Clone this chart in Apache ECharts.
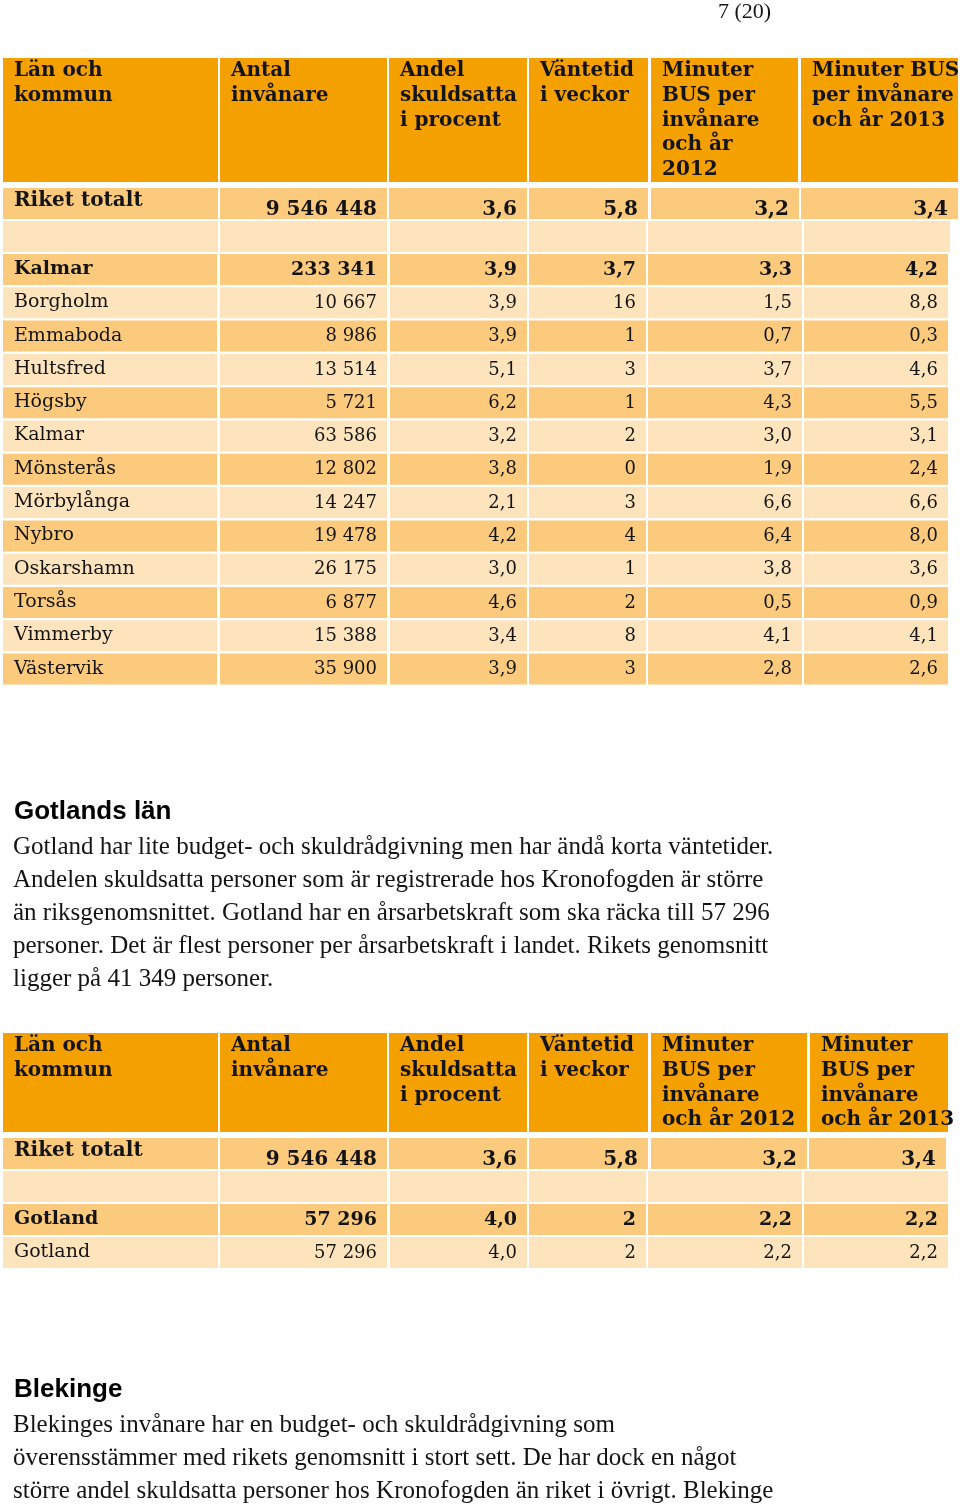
<!DOCTYPE html>
<html><head><meta charset="utf-8">
<script src="https://cdn.jsdelivr.net/npm/echarts@6/dist/echarts.min.js"></script>
<style>html,body{margin:0;padding:0;background:#fff}#c{width:960px;height:1506px}</style>
</head><body><div id="c"></div>
<script>
// ---------- DATA ----------
const pageNumber = '7 (20)';
const header1 = [['Län och','kommun'],['Antal','invånare'],['Andel','skuldsatta','i procent'],['Väntetid','i veckor'],['Minuter','BUS per','invånare','och år','2012'],['Minuter BUS','per invånare','och år 2013']];
const header2 = [['Län och','kommun'],['Antal','invånare'],['Andel','skuldsatta','i procent'],['Väntetid','i veckor'],['Minuter','BUS per','invånare','och år 2012'],['Minuter','BUS per','invånare','och år 2013']];
const riketLabel = 'Riket totalt';
const riketValues = [9546448, 3.6, 5.8, 3.2, 3.4];

const kalmarNames = ['Kalmar','Borgholm','Emmaboda','Hultsfred','Högsby','Kalmar','Mönsterås','Mörbylånga','Nybro','Oskarshamn','Torsås','Vimmerby','Västervik'];
const kalmarAntal = [233341,10667,8986,13514,5721,63586,12802,14247,19478,26175,6877,15388,35900];
const kalmarAndel = [3.9,3.9,3.9,5.1,6.2,3.2,3.8,2.1,4.2,3.0,4.6,3.4,3.9];
const kalmarVantetid = [3.7,16,1,3,1,2,0,3,4,1,2,8,3];
const kalmarMin2012 = [3.3,1.5,0.7,3.7,4.3,3.0,1.9,6.6,6.4,3.8,0.5,4.1,2.8];
const kalmarMin2013 = [4.2,8.8,0.3,4.6,5.5,3.1,2.4,6.6,8.0,3.6,0.9,4.1,2.6];

const gotlandNames = ['Gotland','Gotland'];
const gotlandAntal = [57296,57296];
const gotlandAndel = [4.0,4.0];
const gotlandVantetid = [2,2];
const gotlandMin2012 = [2.2,2.2];
const gotlandMin2013 = [2.2,2.2];

const gotlandHeading = 'Gotlands län';
const gotlandText = [
 'Gotland har lite budget- och skuldrådgivning men har ändå korta väntetider.',
 'Andelen skuldsatta personer som är registrerade hos Kronofogden är större',
 'än riksgenomsnittet. Gotland har en årsarbetskraft som ska räcka till 57 296',
 'personer. Det är flest personer per årsarbetskraft i landet. Rikets genomsnitt',
 'ligger på 41 349 personer.'];
const blekingeHeading = 'Blekinge';
const blekingeText = [
 'Blekinges invånare har en budget- och skuldrådgivning som',
 'överensstämmer med rikets genomsnitt i stort sett. De har dock en något',
 'större andel skuldsatta personer hos Kronofogden än riket i övrigt. Blekinge'];

// ---------- FORMAT ----------
const fmtInt = n => String(n).replace(/\B(?=(\d{3})+(?!\d))/g, ' ');
const fmtDec = n => n.toFixed(1).replace('.', ',');
const fmtWeeks = n => Number.isInteger(n) ? String(n) : fmtDec(n);

// ---------- LAYOUT ----------
const C_HEAD = '#F4A000', C_MED = '#FBCA7D', C_PALE = '#FDE4BD', C_TXT = '#141414';
const SERIF = '"DejaVu Serif", serif';
const T1 = {
  headerY:[58,182], headerCols:[[3,218],[220,387],[389,527],[529,648],[651,798],[801,958]],
  riketY:[188,219], riketCols:[[3,218],[220,387],[389,527],[529,648],[651,799],[801,958]],
  emptyY:[221,252], emptyCols:[[3,218],[220,387],[390,527],[529,646],[648,802],[804,950]],
  rowsTop:254, pitch:33.3, rowH:31, rowCols:[[3,217],[220,387],[390,527],[529,646],[648,802],[804,948]]
};
const T2 = {
  headerY:[1033,1132], headerCols:[[3,218],[220,387],[389,527],[529,648],[651,807],[810,948]],
  riketY:[1138,1169], riketCols:[[3,218],[220,387],[389,527],[529,648],[651,807],[809,946]],
  emptyY:[1171,1202], emptyCols:[[3,218],[220,387],[390,527],[529,646],[648,802],[804,948]],
  rowsTop:1204, pitch:33, rowH:31, rowCols:[[3,218],[220,387],[390,527],[529,646],[648,802],[804,948]]
};

const cells = [];
function buildTable(L, header, names, cols) {
  L.headerCols.forEach((c, j) => cells.push({x0:c[0], x1:c[1], y0:L.headerY[0], y1:L.headerY[1], fill:C_HEAD,
    text: header[j].join('\n'), align:'left', vAlign:'top', ty:L.headerY[0]+0.7, font:'bold 20px '+SERIF, lh:24.7}));
  const ry = L.riketY;
  L.riketCols.forEach((c, j) => {
    if (j === 0) cells.push({x0:c[0], x1:c[1], y0:ry[0], y1:ry[1], fill:C_MED, text:riketLabel, align:'left', vAlign:'middle', ty:ry[0]+13, font:'bold 20px '+SERIF});
    else {
      const v = riketValues[j-1];
      const t = j === 1 ? fmtInt(v) : fmtDec(v);
      cells.push({x0:c[0], x1:c[1], y0:ry[0], y1:ry[1], fill:C_MED, text:t, align:'right', vAlign:'middle', ty:ry[0]+22, font:'bold 20px '+SERIF});
    }
  });
  L.emptyCols.forEach(c => cells.push({x0:c[0], x1:c[1], y0:L.emptyY[0], y1:L.emptyY[1], fill:C_PALE}));
  names.forEach((name, i) => {
    const y0 = L.rowsTop + i*L.pitch, y1 = y0 + L.rowH;
    const fill = i % 2 === 0 ? C_MED : C_PALE;
    const bold = i === 0;
    const vals = [name, fmtInt(cols[0][i]), fmtDec(cols[1][i]), fmtWeeks(cols[2][i]), fmtDec(cols[3][i]), fmtDec(cols[4][i])];
    L.rowCols.forEach((c, j) => cells.push({x0:c[0], x1:c[1], y0:y0, y1:y1, fill:fill, text:vals[j],
      align: j === 0 ? 'left' : 'right', vAlign:'middle', ty:(y0+y1)/2 - (j===0?0.5:-0.5),
      font: (bold ? 'bold 19px ' : (j===0 ? '19px ' : '18px ')) + SERIF}));
  });
}
buildTable(T1, header1, kalmarNames, [kalmarAntal, kalmarAndel, kalmarVantetid, kalmarMin2012, kalmarMin2013]);
buildTable(T2, header2, gotlandNames, [gotlandAntal, gotlandAndel, gotlandVantetid, gotlandMin2012, gotlandMin2013]);

// ---------- CHART ----------
const chart = echarts.init(document.getElementById('c'), null, {renderer:'canvas'});
const PARA_FONT = '25px "Liberation Serif", "Times New Roman", serif';
const HEAD_FONT = 'bold 26px "Liberation Sans", Arial, sans-serif';
const graphics = [
  {type:'text', left:718, top:1, style:{text:pageNumber, font:'22px "Liberation Serif", serif', fill:C_TXT}},
  {type:'text', x:14, y:812, style:{text:gotlandHeading, font:HEAD_FONT, fill:'#000', verticalAlign:'middle'}},
  {type:'text', x:14, y:1390, style:{text:blekingeHeading, font:HEAD_FONT, fill:'#000', verticalAlign:'middle'}}
];
gotlandText.forEach((t,i) => graphics.push({type:'text', x:13, y:847+i*33, style:{text:t, font:PARA_FONT, fill:C_TXT, verticalAlign:'middle'}}));
blekingeText.forEach((t,i) => graphics.push({type:'text', x:13, y:1425+i*33, style:{text:t, font:PARA_FONT, fill:C_TXT, verticalAlign:'middle'}}));

chart.setOption({
  animation:false,
  backgroundColor:'#fff',
  grid:{left:0, right:0, top:0, bottom:0},
  xAxis:{type:'value', min:0, max:960, show:false},
  yAxis:{type:'value', min:0, max:1506, inverse:true, show:false},
  graphic: graphics,
  series:[{
    type:'custom', coordinateSystem:'cartesian2d', clip:false,
    data: cells.map(c => [c.x0, c.y0]),
    renderItem: function(params, api) {
      const c = cells[params.dataIndex];
      const p0 = api.coord([c.x0, c.y0]), p1 = api.coord([c.x1, c.y1]);
      const children = [{type:'rect', shape:{x:p0[0], y:p0[1], width:p1[0]-p0[0], height:p1[1]-p0[1]}, style:{fill:c.fill}}];
      if (c.text) {
        const tx = c.align === 'left' ? c.x0 + 11 : c.x1 - 10;
        const tp = api.coord([tx, c.ty]);
        children.push({type:'text', style:{text:c.text, x:tp[0], y:tp[1], align:c.align, verticalAlign:c.vAlign,
          font:c.font, fill:C_TXT, lineHeight:c.lh || undefined}});
      }
      return {type:'group', children};
    }
  }]
});
</script></body></html>
